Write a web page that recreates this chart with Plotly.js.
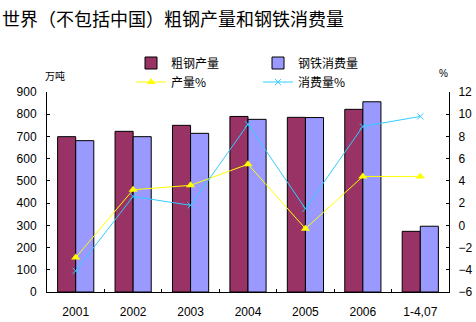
<!DOCTYPE html>
<html><head><meta charset="utf-8">
<script src="https://cdn.plot.ly/plotly-3.0.1.min.js"></script>
<style>html,body{margin:0;padding:0;background:#fff}</style>
</head><body><div id="c" style="width:476px;height:322px"></div>
<script>
const categories = ["2001","2002","2003","2004","2005","2006","1-4,07"];
const crudeSteel = [699, 723, 750, 790, 786, 822, 273];
const steelConsumption = [681, 699, 714, 777, 785, 856, 296];
const outputPct = [-2.9, 3.2, 3.6, 5.5, -0.3, 4.4, 4.4];
const consumptionPct = [-4.1, 2.6, 1.8, 9.1, 1.5, 8.9, 9.8];
const leftTicks = [0,100,200,300,400,500,600,700,800,900];
const rightTicks = [-6,-4,-2,0,2,4,6,8,10,12];

const cjk = '"SimSun","Noto Sans CJK SC",sans-serif';
const data = [
  {type:'bar', name:'粗钢产量', x:categories, y:crudeSteel, marker:{color:'#993366', line:{color:'#000', width:1}}, legend:'legend'},
  {type:'bar', name:'钢铁消费量', x:categories, y:steelConsumption, marker:{color:'#9999FF', line:{color:'#000', width:1}}, legend:'legend2'},
  {type:'scatter', mode:'lines+markers', name:'产量%', x:categories, y:outputPct, yaxis:'y2',
   line:{color:'#FFFF00', width:1}, marker:{symbol:'triangle-up', size:8, color:'#FFFF00'}, legend:'legend3'},
  {type:'scatter', mode:'lines+markers', name:'消费量%', x:categories, y:consumptionPct, yaxis:'y2',
   line:{color:'#33CCFF', width:1}, marker:{symbol:'x-thin', size:6, color:'#33CCFF', line:{color:'#33CCFF', width:1}}, legend:'legend4'}
];
function leg(px, py) {
  return {orientation:'v', x:(px-47)/402, xanchor:'left', y:(292-py)/200, yanchor:'middle',
    itemwidth:30, font:{family:cjk, size:12}, bgcolor:'rgba(0,0,0,0)', borderwidth:0};
}
const layout = {
  width:476, height:322,
  margin:{l:47, r:27, t:92, b:30},
  paper_bgcolor:'#fff', plot_bgcolor:'#fff',
  font:{family:'Arial, "Liberation Sans", sans-serif', size:12, color:'#000'},
  title:{text:'世界（不包括中国）粗钢产量和钢铁消费量', x:0.004, xanchor:'left', y:0.94, yanchor:'middle',
    font:{family:cjk, size:18, color:'#000'}},
  barmode:'group', bargap:0.37, bargroupgap:0,
  showlegend:true,
  xaxis:{type:'category', showline:true, linecolor:'#000', linewidth:1, ticks:'inside', ticklen:3,
    tickson:'boundaries', tickcolor:'#000', showgrid:false, zeroline:false, fixedrange:true,
    ticklabelstandoff:9, tickfont:{size:12}},
  yaxis:{range:[0,900], tickvals:leftTicks, showline:true, linecolor:'#000', linewidth:1,
    ticks:'inside', ticklen:3, tickcolor:'#000', showgrid:false, zeroline:false, ticklabelstandoff:7, tickfont:{size:12}},
  yaxis2:{range:[-6,12], tickvals:rightTicks, overlaying:'y', side:'right', showline:true, linecolor:'#000', linewidth:1,
    ticks:'inside', ticklen:3, tickcolor:'#000', showgrid:false, zeroline:false, ticklabelstandoff:6, tickfont:{size:12}},
  legend: leg(131, 63),
  legend2: leg(258, 63),
  legend3: leg(131, 82),
  legend4: leg(258, 82),
  annotations:[
    {text:'万吨', xref:'paper', yref:'paper', x:(55-47)/402, y:(292-75)/200, xanchor:'center', yanchor:'middle', showarrow:false, font:{family:cjk, size:10}},
    {text:'%', xref:'paper', yref:'paper', x:(443-47)/402, y:(292-73)/200, xanchor:'center', yanchor:'middle', showarrow:false, font:{size:10}}
  ]
};
Plotly.newPlot('c', data, layout, {displayModeBar:false, staticPlot:true});
</script></body></html>
